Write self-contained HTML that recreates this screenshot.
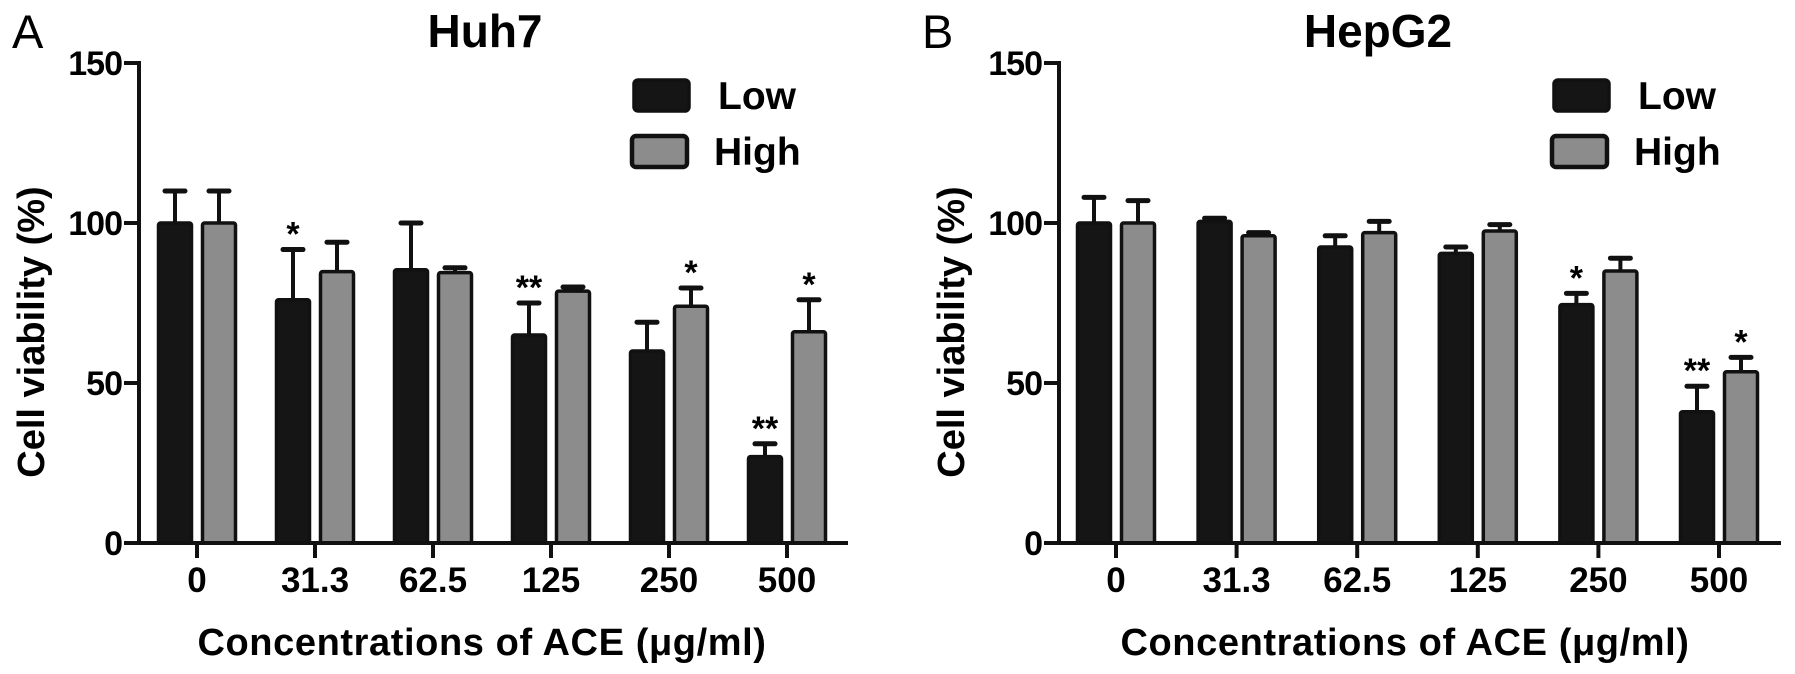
<!DOCTYPE html>
<html><head><meta charset="utf-8"><style>
html,body{margin:0;padding:0;background:#fff;}
svg{display:block;font-family:"Liberation Sans",Arial,sans-serif;}
</style></head><body>
<svg id="fig" width="1795" height="674" viewBox="0 0 1795 674"></svg>
<script>
const categories = ["0","31.3","62.5","125","250","500"];
const yTicks = [0,50,100,150];
const huhLow = [100,76,85.4,65,60,27];
const huhLowErr = [110,91.7,100,75,69,31];
const huhHigh = [100,84.8,84.5,78.7,74,66];
const huhHighErr = [110,94,86,80,79.7,76];
const huhLowStars = ["","*","","**","","**"];
const huhHighStars = ["","","","","*","*"];
const hepLow = [100,100.5,92.5,90.5,74.5,41];
const hepLowErr = [108,101.5,96,92.5,78,49];
const hepHigh = [100,96,97,97.5,85,53.5];
const hepHighErr = [107,97,100.5,99.5,89,58];
const hepLowStars = ["","","","","*","**"];
const hepHighStars = ["","","","","","*"];

const NS="http://www.w3.org/2000/svg";
const svg=document.getElementById('fig');
function mk(tag,attrs,parent){const e=document.createElementNS(NS,tag);for(const k in attrs)e.setAttribute(k,attrs[k]);(parent||svg).appendChild(e);return e;}

function panel(o){
  const g=mk('g',{});
  
  
  const ax=o.ax, y0=543, y150=63;
  const y=v=>y0-(v/150)*(y0-y150);
  const xc=i=>o.tick0+i*o.step;
  const L=mk('text',{x:o.letterX,y:48,'font-size':47},g);L.textContent=o.letter;
  
  
  const T=mk('text',{x:o.titleX,y:47,'font-size':46,'font-weight':'bold','text-anchor':'middle'},g);T.textContent=o.title;
  
  
  for(let i=0;i<categories.length;i++){
    [[o.low,o.lowErr,o.lowStars,-22,'#151515','low'],[o.high,o.highErr,o.highStars,22,'#8c8c8c','high']].forEach(s=>{
      const cx=xc(i)+s[3], top=y(s[0][i]), et=y(s[1][i]);
      const eb=mk('line',{x1:cx,x2:cx,y1:top,y2:et,stroke:'#111','stroke-width':4},g);
      
      
      const cap=mk('line',{x1:cx-10,x2:cx+10,y1:et,y2:et,stroke:'#111','stroke-width':5,'stroke-linecap':'round'},g);
      
      
      const r=mk('rect',{x:cx-16.5,y:top,width:33,height:y0-top,fill:s[4],stroke:'#111','stroke-width':3.5,rx:2},g);
      
      
      if(s[2][i]){
        const st=mk('text',{x:cx,y:et-4,'font-size':34,'font-weight':'bold','text-anchor':'middle'},g);
        st.textContent=s[2][i];
        
        
      }
    });
  }
  const ya=mk('path',{d:`M${ax-15} ${y150}H${ax}V${y0}`,fill:'none',stroke:'#111','stroke-width':4},g);
  
  
  const xa=mk('line',{x1:ax-15,x2:o.axEnd,y1:y0,y2:y0,stroke:'#111','stroke-width':4},g);
  
  
  yTicks.forEach(v=>{
    const tk=mk('line',{x1:ax-15,x2:ax,y1:y(v),y2:y(v),stroke:'#111','stroke-width':4},g);
    
    
    const t=mk('text',{x:ax-17,y:y(v)+12,'font-size':34,'font-weight':'bold','text-anchor':'end','letter-spacing':-1},g);
    t.textContent=v;
    
    
  });
  categories.forEach((c,i)=>{
    const tk=mk('line',{x1:xc(i),x2:xc(i),y1:y0,y2:y0+15,stroke:'#111','stroke-width':4},g);
    
    
    const t=mk('text',{x:xc(i),y:592,'font-size':35,'font-weight':'bold','text-anchor':'middle'},g);
    t.textContent=c;
    
    
  });
  const xt=mk('text',{x:o.xTitleX,y:655,'font-size':38,'font-weight':'bold','text-anchor':'middle','letter-spacing':0.6},g);
  xt.textContent='Concentrations of ACE  (\u03bcg/ml)';
  
  
  const yt=mk('text',{x:0,y:0,'font-size':38,'font-weight':'bold','text-anchor':'middle',transform:`translate(${ax-95},332) rotate(-90)`},g);
  yt.textContent='Cell viability (%)';
  
  
  const lg=mk('g',{},g);
  
  
  const b1=mk('rect',{x:o.legX,y:80,width:55,height:31,fill:'#151515',stroke:'#111','stroke-width':3.5,rx:4},lg);
  
  
  const t1=mk('text',{x:o.legX+84,y:109,'font-size':39,'font-weight':'bold'},lg);t1.textContent='Low';
  
  
  const b2=mk('rect',{x:o.legX-2,y:136,width:55,height:31,fill:'#8c8c8c',stroke:'#111','stroke-width':4.5,rx:4},lg);
  
  
  const t2=mk('text',{x:o.legX+80,y:165,'font-size':39,'font-weight':'bold'},lg);t2.textContent='High';
  
  
}
panel({name:'panel-a-huh7',letter:'A',letterX:12,title:'Huh7',titleX:485,ax:139,axEnd:848,tick0:197,step:118,
  low:huhLow,lowErr:huhLowErr,high:huhHigh,highErr:huhHighErr,lowStars:huhLowStars,highStars:huhHighStars,xTitleX:482,legX:634});
panel({name:'panel-b-hepg2',letter:'B',letterX:922,title:'HepG2',titleX:1378,ax:1059,axEnd:1781,tick0:1116,step:120.6,
  low:hepLow,lowErr:hepLowErr,high:hepHigh,highErr:hepHighErr,lowStars:hepLowStars,highStars:hepHighStars,xTitleX:1405,legX:1554});
</script>
</body></html>
